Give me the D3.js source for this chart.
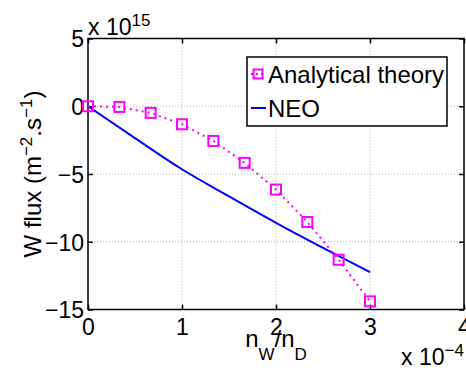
<!DOCTYPE html>
<html>
<head>
<meta charset="utf-8">
<script src="https://cdn.jsdelivr.net/npm/d3@7"></script>
<style>
  body { margin: 0; background: #fff; }
  text { font-family: "Liberation Sans", Arial, sans-serif; }
</style>
</head>
<body>
<script>
var width = 466, height = 371;
var margin = {top: 38.5, right: 2, bottom: 61.5, left: 88};

// x in units of 1e-4, y in units of 1e15
var theoryX = [0, 1/3, 2/3, 1, 4/3, 5/3, 2, 7/3, 8/3, 3];
var theoryY = [0, -0.05, -0.49, -1.33, -2.56, -4.18, -6.15, -8.54, -11.33, -14.4];
var neoX = [0, 0.5, 1, 1.5, 2, 2.5, 3];
var neoY = [0, -2.35, -4.65, -6.65, -8.6, -10.45, -12.25];
var xTicks = [0, 1, 2, 3, 4];
var yTicks = [5, 0, -5, -10, -15];
var seriesNames = ["Analytical theory", "NEO"];

var svg = d3.select("body").append("svg")
    .attr("width", width)
    .attr("height", height);

var w = width - margin.left - margin.right;
var h = height - margin.top - margin.bottom;

var x = d3.scaleLinear().domain([0, 4]).range([margin.left, margin.left + w]);
var y = d3.scaleLinear().domain([-15, 5]).range([margin.top + h, margin.top]);

// grid
var grid = svg.append("g");
grid.selectAll(".gx").data(xTicks.slice(1, -1)).enter().append("line")
    .attr("x1", d => x(d)).attr("x2", d => x(d))
    .attr("y1", y(5)).attr("y2", y(-15))
    .attr("stroke", "#b0b0b0").attr("stroke-width", 1).attr("stroke-dasharray", "1,2");
grid.selectAll(".gy").data(yTicks.slice(1, -1)).enter().append("line")
    .attr("x1", x(0)).attr("x2", x(4))
    .attr("y1", d => y(d)).attr("y2", d => y(d))
    .attr("stroke", "#b0b0b0").attr("stroke-width", 1).attr("stroke-dasharray", "1,2");

// axes, ticks inside
var fs = 23, lfs = 24, sfs = 17;
var xAxis = d3.axisBottom(x).tickValues(xTicks).tickSize(-5).tickPadding(9).tickFormat(d3.format("d"));
var yAxis = d3.axisLeft(y).tickValues(yTicks).tickSize(-5).tickPadding(4).tickFormat(d => d < 0 ? "\u2212" + Math.abs(d) : d);
var xTop = d3.axisTop(x).tickValues(xTicks).tickSize(-5).tickFormat("");
var yRight = d3.axisRight(y).tickValues(yTicks).tickSize(-5).tickFormat("");

function styleAxis(g) {
  g.select(".domain").remove();
  g.selectAll(".tick line").attr("stroke", "#000").attr("stroke-width", 1.5);
  g.selectAll("text").attr("fill", "#000").style("font-size", fs + "px")
    .style("font-family", "'Liberation Sans', Arial, sans-serif");
}

svg.append("g").attr("transform", "translate(0," + y(-15) + ")").call(xAxis).call(styleAxis);
svg.append("g").attr("transform", "translate(" + x(0) + ",0)").call(yAxis).call(styleAxis)
    .selectAll("text").attr("dy", "0.36em");
svg.append("g").attr("transform", "translate(0," + y(5) + ")").call(xTop).call(styleAxis);
svg.append("g").attr("transform", "translate(" + x(4) + ",0)").call(yRight).call(styleAxis);

svg.append("rect")
    .attr("x", x(0)).attr("y", y(5))
    .attr("width", x(4) - x(0)).attr("height", y(-15) - y(5))
    .attr("fill", "none").attr("stroke", "#000").attr("stroke-width", 1.5);

// NEO line
var neoLine = d3.line().x((d, i) => x(neoX[i])).y(d => y(d)).curve(d3.curveMonotoneX);
svg.append("path").datum(neoY)
    .attr("d", neoLine)
    .attr("fill", "none").attr("stroke", "#0000ff").attr("stroke-width", 2);

// analytical theory
var thLine = d3.line().x((d, i) => x(theoryX[i])).y(d => y(d));
svg.append("path").datum(theoryY)
    .attr("d", thLine)
    .attr("fill", "none").attr("stroke", "#ff00ff").attr("stroke-width", 2)
    .attr("stroke-dasharray", "2,4");
var ms = 10;
svg.selectAll(".mk").data(theoryY).enter().append("rect")
    .attr("x", (d, i) => x(theoryX[i]) - ms / 2)
    .attr("y", d => y(d) - ms / 2)
    .attr("width", ms).attr("height", ms)
    .attr("fill", "none").attr("stroke", "#ff00ff").attr("stroke-width", 2);

// legend
var lg = svg.append("g");
lg.append("rect").attr("x", 247).attr("y", 57).attr("width", 200).attr("height", 69)
    .attr("fill", "#fff").attr("stroke", "#000").attr("stroke-width", 1.5);
lg.append("line").attr("x1", 251).attr("x2", 266).attr("y1", 74).attr("y2", 74)
    .attr("stroke", "#ff00ff").attr("stroke-width", 2).attr("stroke-dasharray", "2,3");
lg.append("rect").attr("x", 253.5).attr("y", 69.5).attr("width", 9).attr("height", 9)
    .attr("fill", "none").attr("stroke", "#ff00ff").attr("stroke-width", 2);
lg.append("line").attr("x1", 251).attr("x2", 266).attr("y1", 108).attr("y2", 108)
    .attr("stroke", "#0000ff").attr("stroke-width", 2);
lg.selectAll(".lt").data(seriesNames).enter().append("text")
    .attr("x", 268).attr("y", (d, i) => [83, 117][i])
    .style("font-size", lfs + "px").text(d => d);

// axis labels
var yl = svg.append("text")
    .attr("transform", "translate(41," + ((y(5) + y(-15)) / 2) + ") rotate(-90)")
    .attr("text-anchor", "middle")
    .style("font-size", lfs + "px");
yl.append("tspan").text("W flux (m");
yl.append("tspan").attr("dy", -9).style("font-size", sfs + "px").text("\u22122");
yl.append("tspan").attr("dy", 9).text(".s");
yl.append("tspan").attr("dy", -9).style("font-size", sfs + "px").text("\u22121");
yl.append("tspan").attr("dy", 9).text(")");

var xl = svg.append("text")
    .attr("x", (x(0) + x(4)) / 2).attr("y", 347)
    .attr("text-anchor", "middle")
    .style("font-size", lfs + "px");
xl.append("tspan").text("n");
xl.append("tspan").attr("dy", 13).style("font-size", sfs + "px").text("W");
xl.append("tspan").attr("dy", -13).text("/n");
xl.append("tspan").attr("dy", 13).style("font-size", sfs + "px").text("D");

var ex = svg.append("text").attr("x", 401).attr("y", 365).style("font-size", fs + "px");
ex.append("tspan").text("x 10");
ex.append("tspan").attr("dy", -9).style("font-size", sfs + "px").text("\u22124");

var ey = svg.append("text").attr("x", 88).attr("y", 35).style("font-size", fs + "px");
ey.append("tspan").text("x 10");
ey.append("tspan").attr("dy", -9).style("font-size", sfs + "px").text("15");
</script>
</body>
</html>
